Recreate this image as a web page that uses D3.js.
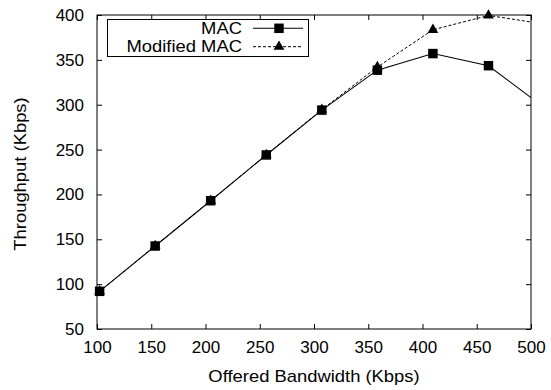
<!DOCTYPE html>
<html><head><meta charset="utf-8">
<script src="https://cdn.jsdelivr.net/npm/d3@7"></script>
<style>
body{margin:0;background:#fff;}
text{font-family:"Liberation Sans",Arial,sans-serif;fill:#000;}
</style></head>
<body><svg id="c" width="551" height="390"></svg>
<script>
const bandwidth = [102.4, 153.6, 204.8, 256, 307.2, 358.4, 409.6, 460.8, 512];
const mac = [92, 142.5, 193, 244, 294, 338.5, 357, 343.5, 297];
const modMac = [92, 142.5, 193, 244, 294.5, 342, 383.5, 399.5, 390];
const xTicks = [100, 150, 200, 250, 300, 350, 400, 450, 500];
const yTicks = [50, 100, 150, 200, 250, 300, 350, 400];
const seriesNames = ["MAC", "Modified MAC"];

const svg = d3.select("#c");
const L = 97, R = 531, T = 15, B = 329;
const x = d3.scaleLinear().domain([100, 500]).range([L, R]);
const y = d3.scaleLinear().domain([50, 400]).range([B, T]);
const fs = "17px";
const lfs = "16px";
const sx = 1.15;

svg.append("defs").append("clipPath").attr("id", "clip")
  .append("rect").attr("x", L).attr("y", T).attr("width", R - L).attr("height", B - T);

// axes with inward ticks
const tl = 5;
svg.append("g").attr("transform", `translate(0,${B})`)
  .call(d3.axisBottom(x).tickValues(xTicks).tickSize(-tl).tickPadding(12).tickFormat(d3.format("d")))
  .call(g => { g.select(".domain").remove(); g.selectAll("text").attr("font-size", fs).attr("font-family", "Liberation Sans, Arial, sans-serif"); });
svg.append("g").attr("transform", `translate(0,${T})`)
  .call(d3.axisTop(x).tickValues(xTicks).tickSize(-tl).tickFormat(""))
  .call(g => g.select(".domain").remove());
svg.append("g").attr("transform", `translate(${L},0)`)
  .call(d3.axisLeft(y).tickValues(yTicks).tickSize(-tl).tickPadding(13).tickFormat(d3.format("d")))
  .call(g => { g.select(".domain").remove(); g.selectAll("text").attr("font-size", fs).attr("font-family", "Liberation Sans, Arial, sans-serif"); });
svg.append("g").attr("transform", `translate(${R},0)`)
  .call(d3.axisRight(y).tickValues(yTicks).tickSize(-tl).tickFormat(""))
  .call(g => g.select(".domain").remove());

svg.append("rect").attr("x", L).attr("y", T).attr("width", R - L).attr("height", B - T)
  .attr("fill", "none").attr("stroke", "#000").attr("stroke-width", 1);

// lines
const line = d3.line().x((d, i) => x(bandwidth[i])).y(d => y(d));
const plot = svg.append("g").attr("clip-path", "url(#clip)");
plot.append("path").datum(mac).attr("d", line).attr("fill", "none").attr("stroke", "#000").attr("stroke-width", 1.1);
plot.append("path").datum(modMac).attr("d", line).attr("fill", "none").attr("stroke", "#000").attr("stroke-width", 1).attr("stroke-dasharray", "3,2");

const sq = d3.symbol().type(d3.symbolSquare).size(90);
const tri = d3.symbol().type(d3.symbolTriangle).size(50);
const inRange = (d, i) => bandwidth[i] <= 500;
svg.append("g").selectAll("path").data(modMac.map((v, i) => [bandwidth[i], v]).filter((d, i) => inRange(d, i)))
  .join("path").attr("d", tri).attr("transform", d => `translate(${x(d[0])},${y(d[1])})`).attr("fill", "#000");
svg.append("g").selectAll("path").data(mac.map((v, i) => [bandwidth[i], v]).filter((d, i) => inRange(d, i)))
  .join("path").attr("d", sq).attr("transform", d => `translate(${x(d[0])},${y(d[1])})`).attr("fill", "#000");

// axis labels
svg.append("text").attr("transform", `translate(${(L + R) / 2},382) scale(${sx},1)`).attr("text-anchor", "middle").attr("font-size", lfs)
  .text("Offered Bandwidth (Kbps)");
svg.append("text").attr("transform", `translate(26,174) rotate(-90) scale(${sx},1)`).attr("text-anchor", "middle").attr("font-size", lfs)
  .text("Throughput (Kbps)");

// legend
const lg = svg.append("g");
lg.append("rect").attr("x", 107.5).attr("y", 19.5).attr("width", 201).attr("height", 37)
  .attr("fill", "#fff").attr("stroke", "#000").attr("stroke-width", 1);
const rows = [28.3, 46.7];
seriesNames.forEach((name, i) => {
  lg.append("text").attr("transform", `translate(242,${rows[i]}) scale(${sx},1)`).attr("dy", "0.36em")
    .attr("text-anchor", "end").attr("font-size", lfs).text(name);
  lg.append("line").attr("x1", 253).attr("x2", 303).attr("y1", rows[i]).attr("y2", rows[i])
    .attr("stroke", "#000").attr("stroke-width", i ? 1 : 1.1).attr("stroke-dasharray", i ? "3,2" : null);
  lg.append("path").attr("d", i ? tri : sq).attr("transform", `translate(279,${rows[i]})`).attr("fill", "#000");
});
</script></body></html>
